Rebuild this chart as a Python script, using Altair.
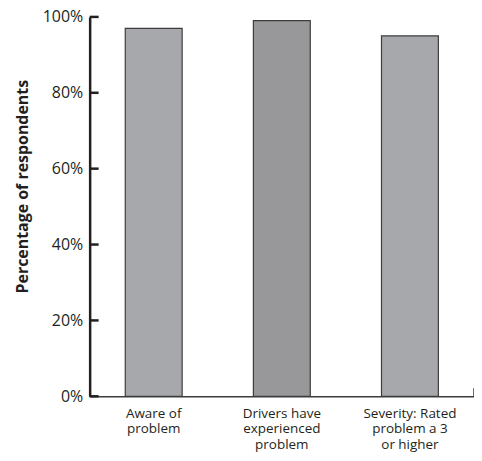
import altair as alt
import pandas as pd

categories = ["Aware of|problem", "Drivers have|experienced|problem", "Severity: Rated|problem a 3|or higher"]
values = [97, 99, 95]
bar_colors = ["#a7a8ab", "#98989b", "#a7a8ab"]
y_ticks = [0, 20, 40, 60, 80, 100]

df = pd.DataFrame({"cat": categories, "value": values})
tick_df = pd.DataFrame({"value": y_ticks})

FONT = "Open Sans"
TXT = "#231f20"

y_axis = alt.Axis(values=y_ticks, labelExpr="datum.value + '%'",
                  title="Percentage of respondents", ticks=False,
                  domainWidth=2.5, domainColor=TXT, grid=False,
                  labelFontSize=16, labelFont=FONT, labelColor=TXT, labelPadding=7,
                  titleFontSize=16, titleFont=FONT, titleFontWeight="bold",
                  titleColor=TXT, titleX=-59, titleY=170)
y_scale = alt.Scale(domain=[0, 100], nice=False)

bars = alt.Chart(df).mark_bar(stroke="#3c3c3c", strokeWidth=1.2).encode(
    x=alt.X("cat:N", sort=None,
            scale=alt.Scale(paddingInner=0.556, paddingOuter=0.278),
            axis=alt.Axis(title=None, labelExpr="split(datum.label, '|')", labelAngle=0,
                          ticks=False, domainColor="#3c3c3c", domainWidth=1.5,
                          labelFontSize=13.5, labelPadding=10, labelLineHeight=15.5,
                          labelColor=TXT, labelFont=FONT)),
    y=alt.Y("value:Q", scale=y_scale, axis=y_axis),
    color=alt.Color("cat:N", sort=None, scale=alt.Scale(domain=categories, range=bar_colors), legend=None),
)

ticks = alt.Chart(tick_df).mark_rule(color=TXT, strokeWidth=2.5).encode(
    y=alt.Y("value:Q", scale=y_scale, axis=y_axis),
    x=alt.value(0), x2=alt.value(9),
)

end_tick = alt.Chart(pd.DataFrame({"a": [0]})).mark_rule(color="#3c3c3c", strokeWidth=1.5).encode(
    x=alt.value(386), y=alt.value(373), y2=alt.value(381),
)

chart = alt.layer(bars, ticks, end_tick).properties(
    width=386, height=381,
    autosize=alt.AutoSizeParams(type="none"),
    padding={"left": 82, "top": 8, "right": 0, "bottom": 56},
).configure_view(stroke=None)

chart.save("out.html", embed_options={"renderer": "svg", "actions": False})
